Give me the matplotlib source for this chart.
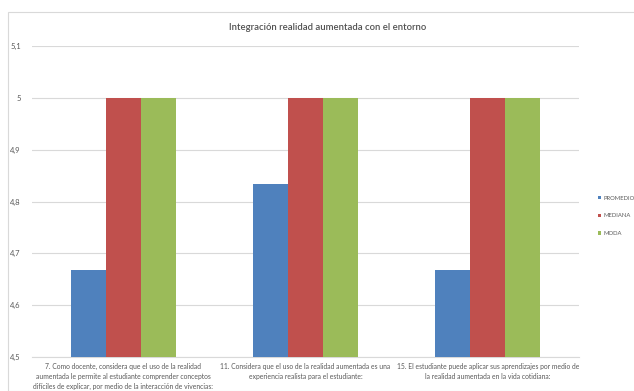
import matplotlib
matplotlib.use("Agg")
import matplotlib.pyplot as plt
from matplotlib.patches import Rectangle
import numpy as np

plt.rcParams['font.family'] = ['Lato', 'DejaVu Sans']

title = "Integración realidad aumentada con el entorno"
categories = [
    "7. Como docente, considera que el uso de la realidad\naumentada le permite al estudiante comprender conceptos\ndifíciles de explicar, por medio de la interacción de vivencias:",
    "11. Considera que el uso de la realidad aumentada es una\nexperiencia realista para el estudiante:",
    "15. El estudiante puede aplicar sus aprendizajes por medio de\nla realidad aumentada en la vida cotidiana:",
]
series_names = ["PROMEDIO", "MEDIANA", "MODA"]
promedio = [4.667, 4.833, 4.667]
mediana = [5, 5, 5]
moda = [5, 5, 5]
y_ticks = [4.5, 4.6, 4.7, 4.8, 4.9, 5.0, 5.1]
y_tick_labels = ["4,5", "4,6", "4,7", "4,8", "4,9", "5", "5,1"]

colors = ["#4F81BD", "#C0504D", "#9BBB59"]
text_color = "#595959"
grid_color = "#D9D9D9"

W, H = 634, 391
fig = plt.figure(figsize=(W / 100, H / 100), dpi=100)

# chart frame
fig.patches.append(Rectangle((8 / W, 0), 1.0, 1 - 12 / H, transform=fig.transFigure,
                             fill=False, edgecolor="#D9D9D9", linewidth=0.8))

ax = fig.add_axes([32 / W, 1 - 357 / H, (579 - 32) / W, (357 - 46) / H])
x = np.arange(len(categories))
bw = 0.192
for i, (vals, name) in enumerate(zip([promedio, mediana, moda], series_names)):
    ax.bar(x + (i - 1) * bw, [v - 4.5 for v in vals], bw, bottom=4.5,
           color=colors[i], label=name, zorder=3)

ax.set_xlim(-0.5, len(categories) - 0.5)
ax.set_ylim(4.5, 5.1)
ax.set_yticks(y_ticks)
ax.set_yticklabels(y_tick_labels, fontsize=5.5, color=text_color)
ax.set_xticks(x)
ax.set_xticklabels(categories, fontsize=4.9, color=text_color, linespacing=1.5)
ax.tick_params(axis="both", length=0)
ax.tick_params(axis="x", pad=4)
ax.tick_params(axis="y", pad=8)
ax.grid(axis="y", color=grid_color, linewidth=0.8, zorder=0)
for s in ["top", "right", "left"]:
    ax.spines[s].set_visible(False)
ax.spines["bottom"].set_color(grid_color)
ax.spines["bottom"].set_linewidth(0.8)

fig.text(328 / W, 1 - 28 / H, title, ha="center", va="center",
         fontsize=6.8, color="#505050", fontweight="semibold")

leg = ax.legend(loc="center left", bbox_to_anchor=(595 / W, 1 - 216 / H),
                bbox_transform=fig.transFigure, frameon=False, fontsize=4.2,
                handlelength=0.6, handleheight=0.6, handletextpad=0.35,
                labelspacing=2.2, borderpad=0)
for t in leg.get_texts():
    t.set_color(text_color)

fig.savefig("out.png", dpi=100)
